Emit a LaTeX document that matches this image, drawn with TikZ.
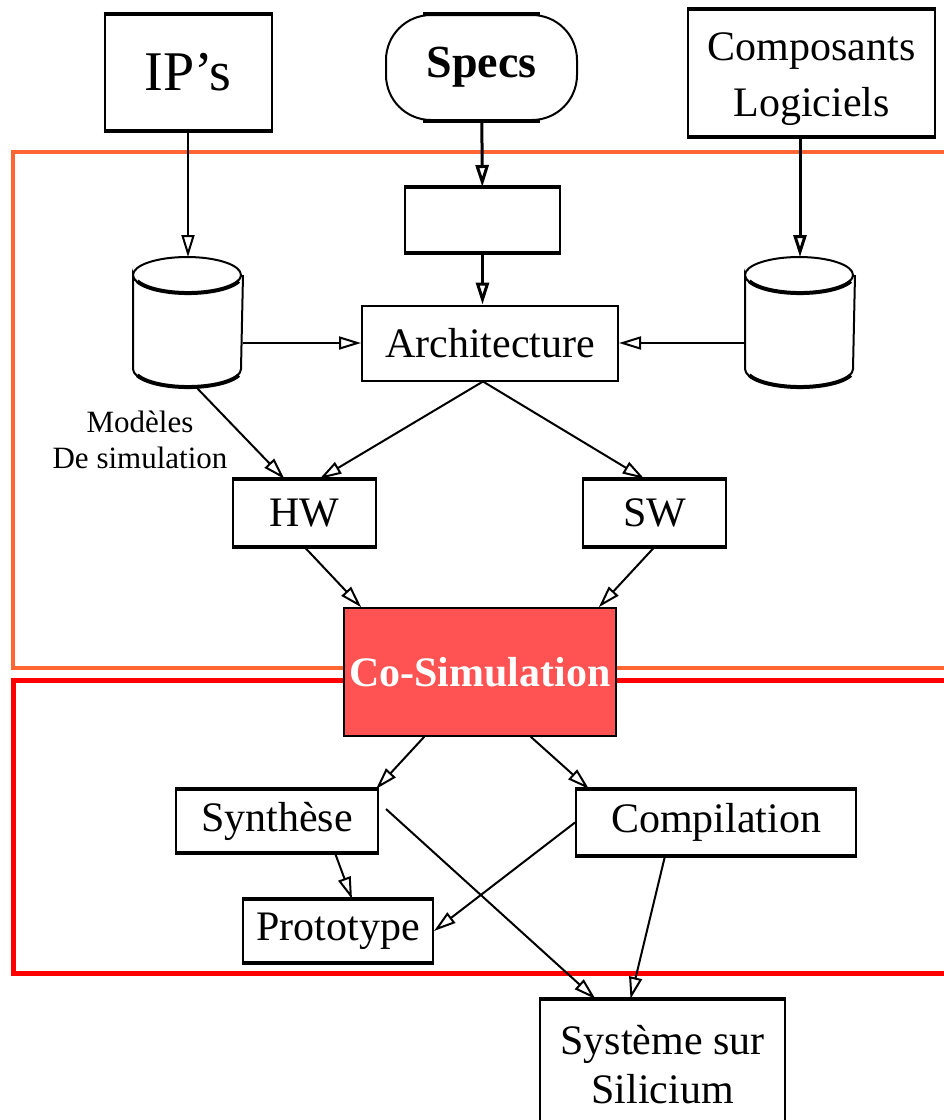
\documentclass[tikz,border=0pt]{standalone}
\usepackage{fontspec}
\setmainfont{Liberation Serif}
\usetikzlibrary{arrows.meta}

\definecolor{frameOrange}{RGB}{255,102,51}
\definecolor{frameRed}{RGB}{255,0,0}
\definecolor{cosimFill}{RGB}{255,82,82}

% outline of a data base drum round a named (empty) node
\newcommand\drawdrum[1]{%
	\draw ([yshift=-18pt]#1.north west) arc[start angle=180, end angle=-180, x radius=54pt, y radius=18pt]
		-- ([yshift=18pt]#1.south west) arc[start angle=180, end angle=360, x radius=54pt, y radius=18pt]
		-- ([yshift=-18pt]#1.north east);
	% heavier front rims
	\draw [line width=4pt] ([xshift=-50.7pt,yshift=-24.2pt]#1.north) arc[start angle=200, end angle=340, x radius=54pt, y radius=18pt];
	\draw [line width=4pt] ([xshift=-50.7pt,yshift=11.8pt]#1.south) arc[start angle=200, end angle=340, x radius=54pt, y radius=18pt];
}

\begin{document}
\begin{tikzpicture}[>={Triangle[open,length=22pt,width=13pt]}, x=1pt, y=-1pt, line width=2pt,
	box/.style={draw, inner sep=0pt, align=center, font=\fontsize{42}{50}\selectfont},
	capped/.style={append after command={
		(\tikzlastnode.north west) edge[line width=4.5pt] (\tikzlastnode.north east)
		(\tikzlastnode.south west) edge[line width=4.5pt] (\tikzlastnode.south east)}},
	drum/.style={inner sep=0pt, minimum width=108pt, minimum height=128pt},
	frame/.style={line width=4pt}]
	\clip (0,0) rectangle (944,1120);

	% Frames
	\draw [frame, frameOrange] (13,152) rectangle (980,668);
	\draw [frame, line width=5pt, frameRed] (13,680) rectangle (980,973);

	% Nodes
	\node [box, capped, minimum width=167pt, minimum height=115pt, font=\fontsize{56}{60}\selectfont] (ips) at (188,72.5) {IP’s};
	\node [box, rounded corners=45pt, minimum width=191pt, minimum height=105pt, font=\bfseries\fontsize{46}{50}\selectfont,
		append after command={[shorten <=38pt, shorten >=38pt]
		(\tikzlastnode.north west) edge[line width=4.5pt] (\tikzlastnode.north east)
		(\tikzlastnode.south west) edge[line width=4.5pt] (\tikzlastnode.south east)}] (specs) at (481.5,67.5) {Specs};
	\node [box, capped, minimum width=247pt, minimum height=126pt, font=\fontsize{42}{56}\selectfont] (comps) at (811.5,73) {\strut Composants\\Logiciels};

	\node [box, capped, minimum width=155pt, minimum height=64pt] (empty) at (482.5,220) {};
	\node [drum] (lcyl) at (188,322) {};
	\node [drum] (rcyl) at (800,322) {};
	\drawdrum{lcyl}
	\drawdrum{rcyl}
	\node [box, minimum width=256pt, minimum height=75pt] (arch) at (490,343) {Architecture};
	\node [font=\fontsize{31}{36}\selectfont, align=center] (simlabel) at (140,440) {Modèles\\De simulation};

	\node [box, capped, minimum width=143pt, minimum height=66pt] (hw) at (304.5,513) {HW};
	\node [box, capped, minimum width=143pt, minimum height=66pt] (sw) at (654.5,513) {SW};

	\node [box, line width=1.5pt, fill=cosimFill, text=white, minimum width=272pt, minimum height=128pt,
		font=\bfseries\fontsize{42}{46}\selectfont] (cosim) at (480,672) {Co-Simulation};

	\node [box, capped, minimum width=202pt, minimum height=62pt] (synth) at (277,821) {Synthèse};
	\node [box, capped, minimum width=280pt, minimum height=65pt] (comp) at (716,822.5) {Compilation};
	\node [box, capped, minimum width=190pt, minimum height=62pt] (proto) at (338,931) {Prototype};
	\node [box, capped, minimum width=245pt, minimum height=130pt, font=\fontsize{42}{49}\selectfont] (sys) at (662.5,1065) {Système sur\\Silicium};

	% Paths
	\path [->] (ips) edge (lcyl);
	\path [->, line width=3pt] (specs) edge (empty);
	\path [->, line width=3pt] (empty) edge (empty |- arch.north);
	\path [->, line width=3pt] (rcyl |- comps.south) edge (rcyl);

	\path [->] (lcyl.east |- arch) edge (arch);
	\path [->] (rcyl.west |- arch) edge (arch);

	\path [->] ([xshift=8pt]lcyl.south) edge ([xshift=-20pt]hw.north);
	\path [->] ([xshift=-7pt]arch.south) edge ([xshift=15pt]hw.north);
	\path [->] ([xshift=-7pt]arch.south) edge ([xshift=-10pt]sw.north);

	\path [->] (hw.south) edge ([xshift=18pt]cosim.north west);
	\path [->] (sw.south) edge ([xshift=-18pt]cosim.north east);

	\path [->] ([xshift=81pt]cosim.south west) edge ([xshift=-3pt]synth.north east);
	\path [->] ([xshift=-86pt]cosim.south east) edge ([xshift=14pt]comp.north west);

	\path [->] ([xshift=58pt]synth.south) edge ([xshift=14pt]proto.north);
	\path [->] (comp.west) edge (proto.east);
	\path [->] ([xshift=7pt,yshift=-20pt]synth.north east) edge ([xshift=-67pt]sys.north);
	\path [->] ([xshift=-51pt]comp.south) edge ([xshift=-32pt]sys.north);
\end{tikzpicture}
\end{document}
